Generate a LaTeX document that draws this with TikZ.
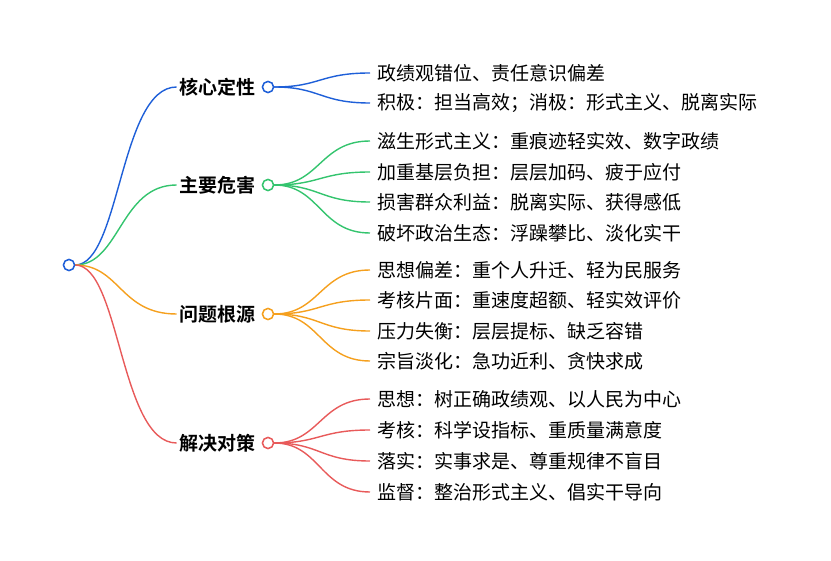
\documentclass[tikz,border=0pt]{standalone}
\usepackage{fontspec}
\setmainfont{Noto Sans CJK SC}[BoldFont={Noto Sans CJK SC Bold}]
\definecolor{cb}{HTML}{1E5FD8}
\definecolor{cg}{HTML}{34C46E}
\definecolor{co}{HTML}{F5A01E}
\definecolor{cr}{HTML}{E85A5A}
\tikzset{dot/.style={circle,draw,line width=1.4pt,fill=white,inner sep=0pt,minimum size=11pt},
 br/.style={anchor=east,font=\fontsize{19}{19}\selectfont\bfseries,inner sep=0pt},
 lf/.style={anchor=west,font=\fontsize{19}{19}\selectfont,inner sep=0pt},
 ln/.style={line width=1.4pt}}
\begin{document}
\begin{tikzpicture}[x=1pt,y=-1pt]
\useasboundingbox (0,0) rectangle (831,561);
\def\mkbranch#1#2#3#4{%
 \node[dot,draw=#1] (b#2) at (268,#3) {};
 \node[br] (t#2) at (256,#3) {#4};
 \draw[ln,#1] (root.east) .. controls (120,265) and (120,#3) .. ([xshift=-3pt]t#2.west);}
\def\mkleaf#1#2#3#4#5{%
 \node[lf] (l#3) at (377,#4) {#5};
 \draw[ln,#1] (b#2.east) .. controls (320,\csname y#2\endcsname) and (320,#4) .. (370,#4);}
\node[dot,draw=cb] (root) at (69,265) {};
\def\ya{87}\def\yb{185}\def\yc{314}\def\yd{443}
\mkbranch{cb}{a}{87}{核心定性}
\mkbranch{cg}{b}{185}{主要危害}
\mkbranch{co}{c}{314}{问题根源}
\mkbranch{cr}{d}{443}{解决对策}
\node[dot,draw=cb] at (root) {};
\mkleaf{cb}{a}{1}{73}{政绩观错位、责任意识偏差}
\mkleaf{cb}{a}{2}{103}{积极：担当高效；消极：形式主义、脱离实际}
\mkleaf{cg}{b}{3}{141}{滋生形式主义：重痕迹轻实效、数字政绩}
\mkleaf{cg}{b}{4}{172}{加重基层负担：层层加码、疲于应付}
\mkleaf{cg}{b}{5}{202}{损害群众利益：脱离实际、获得感低}
\mkleaf{cg}{b}{6}{233}{破坏政治生态：浮躁攀比、淡化实干}
\mkleaf{co}{c}{7}{270}{思想偏差：重个人升迁、轻为民服务}
\mkleaf{co}{c}{8}{300}{考核片面：重速度超额、轻实效评价}
\mkleaf{co}{c}{9}{331}{压力失衡：层层提标、缺乏容错}
\mkleaf{co}{c}{10}{361}{宗旨淡化：急功近利、贪快求成}
\mkleaf{cr}{d}{11}{399}{思想：树正确政绩观、以人民为中心}
\mkleaf{cr}{d}{12}{430}{考核：科学设指标、重质量满意度}
\mkleaf{cr}{d}{13}{461}{落实：实事求是、尊重规律不盲目}
\mkleaf{cr}{d}{14}{492}{监督：整治形式主义、倡实干导向}
\foreach \c/\n in {cb/a,cg/b,co/c,cr/d} {\node[dot,draw=\c] at (b\n) {};}
\end{tikzpicture}
\end{document}
